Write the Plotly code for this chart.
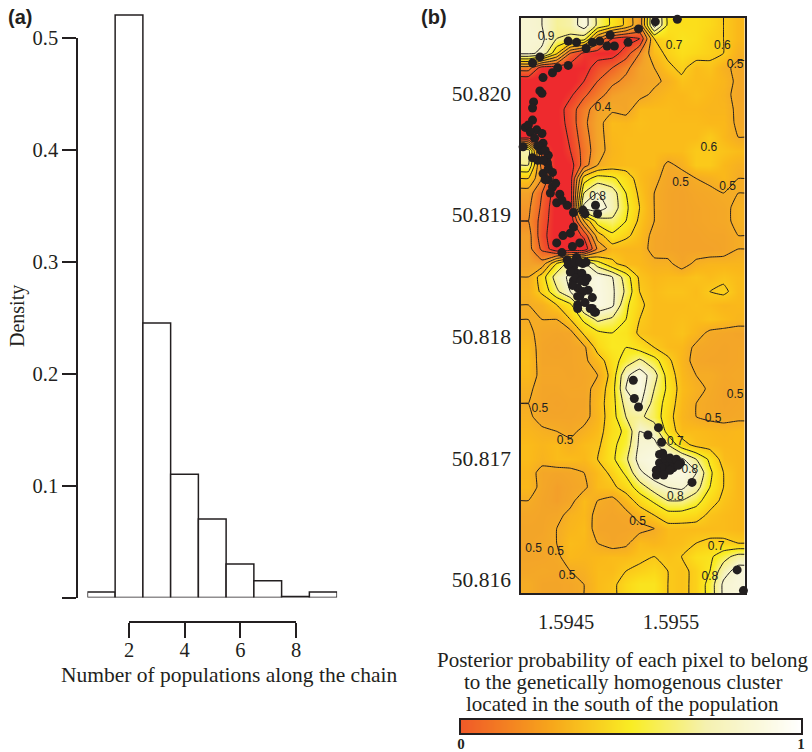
import numpy as np
import plotly.graph_objects as go

W, H = 812, 752
SERIF = "Liberation Serif"
INK = "#231f20"

# ---------- panel (a)
populations = [1, 2, 3, 4, 5, 6, 7, 8, 9]
density = [0.005, 0.52, 0.245, 0.11, 0.07, 0.03, 0.015, 0.001, 0.005]
density_ticks = [0, 0.1, 0.2, 0.3, 0.4, 0.5]
density_labels = ["", "0.1", "0.2", "0.3", "0.4", "0.5"]
population_ticks = [2, 4, 6, 8]

# ---------- panel (b): posterior probability (percent), read row by row, north to south
grid_lon = [1.59414, 1.59427, 1.59441, 1.59454, 1.59467, 1.59480, 1.59494, 1.59507,
            1.59520, 1.59534, 1.59547, 1.59560, 1.59574, 1.59587, 1.59600, 1.59614]
grid_lat = [50.82056, 50.82045, 50.82033, 50.82021, 50.82010, 50.81999, 50.81987, 50.81976,
            50.81964, 50.81953, 50.81941, 50.81930, 50.81918, 50.81906, 50.81895, 50.81883,
            50.81872, 50.81860, 50.81849, 50.81837, 50.81826, 50.81814, 50.81803, 50.81791,
            50.81780, 50.81768, 50.81757, 50.81745, 50.81734, 50.81722, 50.81711, 50.81699,
            50.81688, 50.81676, 50.81665, 50.81653, 50.81642, 50.81630, 50.81619, 50.81607,
            50.81596]
frame_lon = [1.59407, 1.59620]
frame_lat = [50.81589, 50.82062]
prob_pct = [
    [92, 90, 82, 84, 95, 78, 68, 58, 42, 95, 68, 66, 66, 64, 60, 55],
    [92, 92, 80, 78, 75, 40, 20, 15, 20, 60, 64, 68, 66, 62, 60, 55],
    [92, 88, 62, 30, 18, 15, 15, 25, 40, 56, 62, 66, 64, 62, 60, 52],
    [35, 15, 15, 15, 15, 25, 30, 38, 45, 50, 58, 62, 56, 58, 52, 48],
    [12, 12, 12, 12, 20, 30, 38, 42, 45, 48, 52, 58, 56, 56, 54, 48],
    [12, 12, 12, 18, 28, 36, 44, 46, 47, 52, 55, 55, 57, 55, 53, 47],
    [12, 12, 14, 25, 36, 45, 48, 46, 56, 56, 56, 55, 55, 54, 54, 48],
    [14, 12, 14, 24, 38, 46, 56, 55, 57, 56, 56, 56, 56, 55, 55, 48],
    [15, 12, 12, 22, 36, 46, 55, 56, 56, 56, 56, 56, 56, 60, 55, 50],
    [85, 25, 12, 20, 34, 46, 54, 56, 56, 56, 56, 56, 60, 60, 58, 56],
    [80, 35, 12, 15, 35, 50, 55, 56, 56, 56, 48, 52, 60, 60, 55, 52],
    [60, 40, 14, 15, 65, 75, 72, 65, 56, 52, 47, 46, 50, 52, 55, 50],
    [45, 30, 14, 14, 80, 90, 85, 70, 58, 50, 46, 45, 47, 48, 50, 50],
    [42, 28, 12, 12, 93, 96, 86, 72, 60, 50, 46, 45, 46, 47, 48, 52],
    [40, 26, 12, 12, 50, 75, 78, 70, 58, 50, 46, 45, 46, 47, 48, 52],
    [44, 24, 12, 12, 22, 55, 68, 62, 56, 47, 46, 45, 45, 46, 46, 50],
    [44, 28, 12, 12, 12, 42, 55, 54, 54, 47, 46, 45, 45, 45, 46, 50],
    [45, 44, 70, 85, 92, 75, 62, 56, 55, 52, 52, 46, 52, 54, 54, 54],
    [50, 65, 85, 92, 92, 96, 90, 75, 58, 55, 56, 56, 58, 56, 58, 56],
    [52, 62, 78, 90, 92, 96, 92, 78, 60, 56, 58, 58, 56, 60, 62, 56],
    [50, 52, 60, 68, 90, 96, 92, 72, 62, 56, 56, 56, 57, 56, 54, 55],
    [50, 50, 50, 60, 72, 82, 78, 70, 60, 56, 56, 57, 56, 58, 56, 54],
    [52, 47, 46, 47, 62, 68, 70, 68, 58, 56, 56, 58, 54, 48, 47, 46],
    [55, 46, 45, 46, 48, 64, 70, 70, 66, 60, 56, 55, 48, 47, 46, 47],
    [56, 46, 46, 46, 48, 55, 66, 74, 82, 74, 62, 54, 47, 46, 46, 47],
    [55, 47, 47, 46, 47, 50, 64, 88, 96, 84, 66, 55, 50, 50, 47, 48],
    [52, 46, 46, 47, 47, 53, 66, 90, 96, 80, 68, 56, 52, 49, 46, 47],
    [50, 46, 45, 46, 46, 55, 66, 84, 92, 76, 66, 55, 50, 48, 46, 47],
    [52, 46, 46, 46, 47, 54, 66, 80, 82, 76, 64, 54, 50, 48, 47, 48],
    [54, 52, 50, 48, 52, 56, 66, 72, 90, 86, 66, 56, 56, 55, 54, 55],
    [56, 54, 56, 52, 56, 58, 68, 74, 92, 93, 80, 64, 57, 56, 55, 55],
    [56, 53, 56, 56, 55, 60, 68, 78, 94, 96, 94, 92, 80, 68, 56, 55],
    [54, 47, 46, 47, 50, 56, 62, 72, 88, 96, 96, 96, 90, 72, 60, 55],
    [55, 47, 44, 46, 48, 56, 58, 64, 75, 85, 90, 92, 84, 70, 60, 55],
    [50, 46, 44, 47, 56, 50, 47, 55, 64, 72, 80, 80, 74, 64, 58, 55],
    [47, 46, 47, 53, 55, 47, 46, 47, 54, 60, 66, 66, 64, 58, 56, 55],
    [46, 46, 50, 54, 56, 46, 46, 46, 47, 50, 56, 56, 56, 56, 56, 55],
    [46, 47, 50, 56, 55, 50, 46, 48, 56, 54, 56, 57, 60, 62, 62, 60],
    [46, 46, 48, 55, 54, 55, 56, 56, 58, 60, 58, 60, 66, 68, 76, 84],
    [47, 48, 47, 50, 52, 56, 56, 60, 62, 64, 60, 58, 62, 70, 86, 94],
    [50, 46, 46, 47, 50, 56, 58, 64, 68, 68, 60, 58, 62, 74, 92, 94],
]

sample_lon = [1.59535, 1.59556, 1.59519, 1.59509, 1.59492, 1.59482, 1.59475, 1.59460, 1.59452,
              1.59469, 1.59496, 1.59489, 1.59425, 1.59418, 1.59452, 1.59442, 1.59437, 1.59428,
              1.59425, 1.59427, 1.59419, 1.59418, 1.59418, 1.59411, 1.59409, 1.59422, 1.59427,
              1.59428, 1.59425, 1.59433, 1.59418, 1.59432, 1.59428, 1.59433, 1.59437, 1.59435,
              1.59444, 1.59441, 1.59451, 1.59457, 1.59466, 1.59478, 1.59480, 1.59468, 1.59457,
              1.59454, 1.59447, 1.59463, 1.59441, 1.59456, 1.59446, 1.59451, 1.59460, 1.59466,
              1.59457, 1.59460, 1.59465, 1.59457, 1.59468, 1.59461, 1.59463, 1.59471, 1.59475,
              1.59461, 1.59475, 1.59461, 1.59473, 1.59478,
              1.59514, 1.59515, 1.59519, 1.59538, 1.59528, 1.59541, 1.59542, 1.59539, 1.59546,
              1.59552, 1.59559, 1.59538, 1.59546, 1.59552, 1.59570, 1.59613, 1.59619,
              1.59414, 1.59416, 1.59420, 1.59423, 1.59426, 1.59430, 1.59423, 1.59428, 1.59433,
              1.59437, 1.59430, 1.59440, 1.59446,
              1.59452, 1.59458, 1.59463, 1.59469, 1.59454, 1.59459, 1.59464, 1.59470, 1.59456,
              1.59466, 1.59461, 1.59468, 1.59477,
              1.59539, 1.59544, 1.59549, 1.59555, 1.59541, 1.59549, 1.59536, 1.59536, 1.59543,
              1.59557]
sample_lat = [50.82059, 50.82061, 50.82053, 50.82042, 50.82048, 50.82043, 50.82042, 50.82042, 50.82043,
              50.82037, 50.82039, 50.82039, 50.82030, 50.82025, 50.82023, 50.82021, 50.82017, 50.82013,
              50.82002, 50.82000, 50.81993, 50.81988, 50.81978, 50.81972, 50.81956, 50.81970, 50.81967,
              50.81959, 50.81956, 50.81949, 50.81947, 50.81943, 50.81934, 50.81929, 50.81923, 50.81918,
              50.81917, 50.81910, 50.81908, 50.81902, 50.81904, 50.81908, 50.81901, 50.81901, 50.81890,
              50.81885, 50.81883, 50.81877, 50.81877, 50.81874, 50.81869, 50.81863, 50.81865, 50.81860,
              50.81857, 50.81852, 50.81852, 50.81846, 50.81845, 50.81840, 50.81833, 50.81838, 50.81832,
              50.81826, 50.81823, 50.81823, 50.81823, 50.81820,
              50.81764, 50.81749, 50.81742, 50.81725, 50.81719, 50.81713, 50.81704, 50.81696, 50.81696,
              50.81696, 50.81696, 50.81688, 50.81690, 50.81692, 50.81680, 50.81608, 50.81591,
              50.81974, 50.81968, 50.81963, 50.81957, 50.81953, 50.81953, 50.81945, 50.81945, 50.81938,
              50.81935, 50.81929, 50.81926, 50.81912,
              50.81859, 50.81861, 50.81861, 50.81861, 50.81853, 50.81848, 50.81846, 50.81848, 50.81842,
              50.81837, 50.81833, 50.81828, 50.81820,
              50.81703, 50.81700, 50.81700, 50.81699, 50.81692, 50.81690, 50.81690, 50.81686, 50.81686,
              50.81694]

label_lon = [1.59485, 1.59480, 1.59553, 1.59599, 1.59611, 1.59586, 1.59559, 1.59604, 1.59431, 1.59425,
             1.59449, 1.59554, 1.59554, 1.59590, 1.59611, 1.59593, 1.59587, 1.59419, 1.59440, 1.59451,
             1.59568, 1.59518]
label_lat = [50.81988, 50.81915, 50.82039, 50.82039, 50.82023, 50.81955, 50.81926, 50.81923, 50.82046, 50.81740,
             50.81714, 50.81713, 50.81668, 50.81732, 50.81752, 50.81627, 50.81602, 50.81625, 50.81623, 50.81603,
             50.81690, 50.81647]
label_text = ["0.4", "0.8", "0.7", "0.6", "0.5", "0.6", "0.5", "0.5", "0.9", "0.5",
              "0.5", "0.7", "0.8", "0.5", "0.5", "0.7", "0.8", "0.5", "0.5", "0.5",
              "0.8", "0.5"]
lon_ticks = [1.5945, 1.5955]
lat_ticks = [50.816, 50.817, 50.818, 50.819, 50.820]

# ---------- colour key
key_values = [0, 0.25, 0.5, 0.75, 1]

map_scale = [[0, "#ee2a2e"], [0.15, "#ee2a2e"], [0.25, "#f0502a"], [0.35, "#f27a28"], [0.45, "#f3a329"],
             [0.5, "#f5ac25"], [0.55, "#fab81a"], [0.65, "#fbdb1a"], [0.72, "#f9ed24"],
             [0.8, "#f7f08a"], [0.88, "#f5f2c4"], [1, "#fbfaef"]]
key_scale = [[0, "#f05a28"], [0.27, "#f7a81b"], [0.5, "#f9ed24"], [0.72, "#f5f1b0"], [1, "#ffffff"]]


def px(x):
    return x / W


def py(y):
    return 1 - y / H


lon_full = [frame_lon[0]] + grid_lon + [frame_lon[1]]
lat_full = [frame_lat[1]] + grid_lat + [frame_lat[0]]
z_full = np.pad(np.array(prob_pct) / 100.0, 1, mode="edge")

fig = go.Figure()
fig.add_bar(x=populations, y=density, width=1, marker=dict(color="white", line=dict(color=INK, width=1.5)),
            xaxis="x", yaxis="y5", showlegend=False)
fig.add_scatter(x=population_ticks, y=[0] * 4, mode="markers", opacity=0, xaxis="x2", yaxis="y",
                showlegend=False, hoverinfo="skip")
fig.add_heatmap(x=lon_full, y=lat_full, z=z_full, zmin=0, zmax=1, colorscale=map_scale, zsmooth="best",
                showscale=False, xaxis="x3", yaxis="y3")
fig.add_contour(x=lon_full, y=lat_full, z=z_full, autocontour=False,
                contours=dict(start=0.1, end=0.9, size=0.1, coloring="none"),
                line=dict(color=INK, width=1, smoothing=0.4), showscale=False, xaxis="x3", yaxis="y3")
fig.add_scatter(x=sample_lon, y=sample_lat, mode="markers", marker=dict(color=INK, size=9),
                xaxis="x3", yaxis="y3", showlegend=False, cliponaxis=False)
fig.add_scatter(x=label_lon, y=label_lat, mode="text", text=label_text,
                textfont=dict(family="Liberation Sans", size=12, color=INK), xaxis="x3", yaxis="y3",
                showlegend=False)
fig.add_heatmap(x=key_values, y=[0, 1], z=[key_values, key_values], zmin=0, zmax=1, colorscale=key_scale,
                zsmooth="best", showscale=False, xaxis="x4", yaxis="y4")

tick_font = dict(family=SERIF, size=20.5, color=INK)
map_y_font = dict(family=SERIF, size=21.5, color=INK)
fig.update_layout(
    width=W, height=H, margin=dict(l=0, r=0, t=0, b=0, autoexpand=False), paper_bgcolor="white",
    plot_bgcolor="rgba(0,0,0,0)", showlegend=False,
    xaxis=dict(domain=[px(87.4), px(337.1)], range=[0.5, 9.5], visible=False, anchor="y5"),
    yaxis5=dict(domain=[py(597.5), py(3.9)], range=[0, 0.53], visible=False, anchor="x"),
    yaxis=dict(domain=[py(597.5), py(37.5)], range=[0, 0.5], anchor="free", position=px(77),
               tickvals=density_ticks, ticktext=density_labels, ticks="outside", ticklen=14, tickwidth=1.5,
               tickcolor=INK, showline=True, linecolor=INK, linewidth=1.5, showgrid=False, zeroline=False,
               tickfont=tick_font),
    xaxis2=dict(domain=[px(129), px(296)], range=[2, 8], anchor="free", position=py(622),
                tickvals=population_ticks, ticks="outside", ticklen=15, tickwidth=1.5, tickcolor=INK,
                ticklabelstandoff=-5,
                showline=True, linecolor=INK, linewidth=1.5, showgrid=False, zeroline=False, tickfont=tick_font),
    xaxis3=dict(domain=[px(521), px(744.5)], range=frame_lon, anchor="y3", tickvals=lon_ticks,
                tickformat=".4f", ticks="outside", ticklen=10, tickcolor="rgba(0,0,0,0)", showline=True,
                mirror=True, linecolor=INK, linewidth=1.5, showgrid=False, zeroline=False, tickfont=tick_font),
    yaxis3=dict(domain=[py(593), py(18)], range=frame_lat, anchor="x3", tickvals=lat_ticks,
                tickformat=".3f", ticks="outside", ticklen=4, tickcolor="rgba(0,0,0,0)", showline=True,
                mirror=True, linecolor=INK, linewidth=1.5, showgrid=False, zeroline=False, tickfont=map_y_font),
    xaxis4=dict(domain=[px(461), px(801)], range=[0, 1], anchor="y4", tickvals=[0, 1],
                ticktext=["<b>0</b>", "<b>1</b>"], ticks="", ticklabelstandoff=-4, showline=True,
                mirror=True, linecolor=INK, linewidth=1.5, showgrid=False, zeroline=False,
                tickfont=dict(family=SERIF, size=15, color=INK)),
    yaxis4=dict(domain=[py(733), py(720)], range=[0, 1], anchor="x4", visible=True, showticklabels=False, ticks="",
                showline=True, mirror=True, linecolor=INK, linewidth=1.5, showgrid=False, zeroline=False),
)


def note(text, x, y, size=21, family=SERIF, angle=0):
    fig.add_annotation(text=text, x=px(x), y=py(y), xref="paper", yref="paper", showarrow=False,
                       xanchor="center", yanchor="middle", textangle=angle,
                       font=dict(family=family, size=size, color=INK))


note("<b>(a)</b>", 19.5, 17, 20, "Liberation Sans")
note("<b>(b)</b>", 434, 17, 20, "Liberation Sans")
note("Density", 17, 316, 20, angle=-90)
note("Number of populations along the chain", 229, 675, 21.5)
note("Posterior probability of each pixel to belong", 622, 660, 21)
note("to the genetically homogenous cluster", 623, 682, 21)
note("located in the south of the population", 622, 704, 21)

fig.write_html("out.html", config=dict(displayModeBar=False),
               post_script="document.body.style.margin='0';document.body.style.overflow='hidden';")
